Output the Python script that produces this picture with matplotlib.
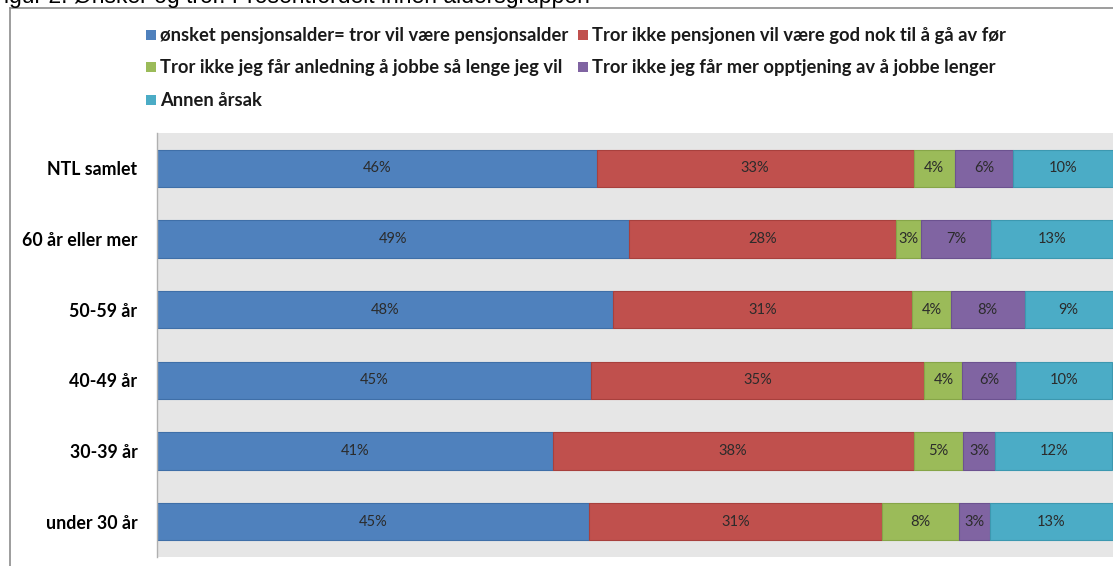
import matplotlib.pyplot as plt
from matplotlib.lines import Line2D
from matplotlib.patches import Rectangle

# kategorier (øverst først)
grupper = ["NTL samlet", "60 år eller mer", "50-59 år", "40-49 år", "30-39 år", "under 30 år"]

serier = [
    "ønsket pensjonsalder= tror vil være pensjonsalder",
    "Tror ikke pensjonen vil være god nok til å gå av før",
    "Tror ikke jeg får anledning å jobbe så lenge jeg vil",
    "Tror ikke jeg får mer opptjening av å jobbe lenger",
    "Annen årsak",
]

# prosentverdier per serie, i samme rekkefølge som grupper
onsket = [46.0, 49.4, 47.7, 45.4, 41.4, 45.2]
pensjon_god_nok = [33.2, 27.9, 31.3, 34.9, 37.8, 30.7]
anledning = [4.3, 2.7, 4.1, 4.0, 5.2, 8.0]
opptjening = [6.1, 7.3, 7.7, 5.6, 3.3, 3.3]
annen = [10.4, 12.7, 9.2, 10.1, 12.3, 12.8]

verdier = [onsket, pensjon_god_nok, anledning, opptjening, annen]
farger = ["#4f81bd", "#c0504d", "#9bbb59", "#8064a2", "#4bacc6"]
kanter = ["#3f6fa8", "#a8403d", "#86a548", "#6c5290", "#3c98b0"]

W, H = 1113, 566
fig = plt.figure(figsize=(W / 100, H / 100), dpi=100)

# tittel (avkuttet i toppen, som i originalen)
fig.text(-10 / W, 1 - 3 / H, "Figur 2. Ønsker og tror. Prosentfordelt innen aldersgruppen",
         fontsize=16.5, family="Liberation Sans", va="baseline", ha="left", color="#000000")

# ytre ramme
fig.add_artist(Line2D([9.5 / W, 9.5 / W], [0, 1 - 7.5 / H], color="#8c8c8c", lw=1.2))
fig.add_artist(Line2D([9.5 / W, 1], [1 - 7.5 / H, 1 - 7.5 / H], color="#8c8c8c", lw=1.2))

ax = fig.add_axes([157 / W, 9 / H, (1112.5 - 157) / W, 424 / H])
ax.set_facecolor("#e6e6e6")

y = list(range(len(grupper)))
venstre = [0.0] * len(grupper)
for navn, vals, farge, kant in zip(serier, verdier, farger, kanter):
    bars = ax.barh(y, vals, left=venstre, height=0.53, color=farge,
                   edgecolor=kant, linewidth=0.8, label=navn)
    for rect, v in zip(bars, vals):
        ax.text(rect.get_x() + rect.get_width() / 2, rect.get_y() + rect.get_height() / 2,
                f"{round(v)}%", ha="center", va="center", fontsize=10.5,
                family="Lato", color="#2b2b2b")
    venstre = [a + b for a, b in zip(venstre, vals)]

ax.set_xlim(0, 100)
ax.set_ylim(len(grupper) - 0.5, -0.5)
ax.set_xticks([])
ax.set_yticks(y)
ax.set_yticklabels(grupper, fontsize=12.8, fontweight="bold", family="Lato")
ax.tick_params(axis="y", length=0, pad=14)
for s in ["top", "right", "bottom"]:
    ax.spines[s].set_visible(False)
ax.spines["left"].set_color("#b0b0b0")
ax.spines["left"].set_linewidth(1.0)

# forklaring, manuelt plassert i to kolonner
plasser = [(146, 35), (578, 35), (146, 67), (578, 67), (146, 100)]
for (px, py), navn, farge in zip(plasser, serier, farger):
    fig.add_artist(Rectangle((px / W, 1 - (py + 5) / H), 10 / W, 10 / H,
                             facecolor=farge, edgecolor="none"))
    fig.text((px + 14) / W, 1 - py / H, navn, fontsize=13.2, fontweight="bold",
             family="Lato", va="center", ha="left", color="#1a1a1a")

fig.savefig("out.png", dpi=100)
